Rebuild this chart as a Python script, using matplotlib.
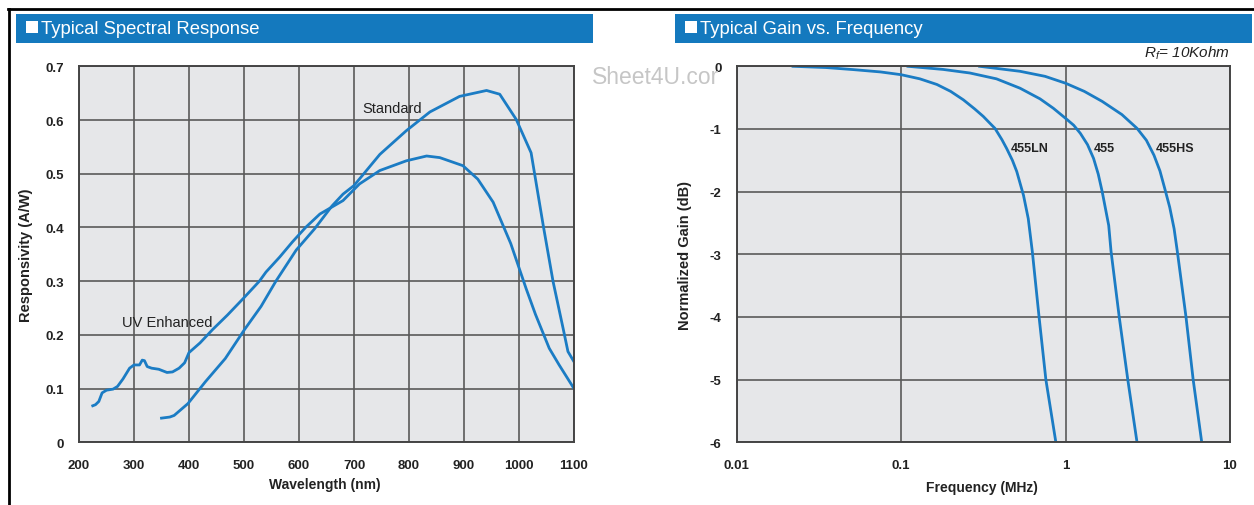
import matplotlib
matplotlib.use("Agg")
import matplotlib.pyplot as plt
from matplotlib.patches import Rectangle

# spectral response (wavelength nm, responsivity A/W)
uv_wl = [225, 230, 236, 242, 250, 262, 270, 280, 292, 300, 310, 315, 319, 324,
         332, 345, 360, 370, 382, 392, 400, 420, 443, 470, 498, 528, 540, 565,
         588, 612, 638, 680, 710, 747, 795, 832, 856, 898, 925, 953, 985, 1013,
         1030, 1055, 1073, 1100]
uv_resp = [0.068, 0.070, 0.076, 0.092, 0.097, 0.099, 0.104, 0.118, 0.138, 0.144,
           0.144, 0.153, 0.152, 0.141, 0.138, 0.136, 0.130, 0.131, 0.138, 0.148,
           0.167, 0.185, 0.210, 0.237, 0.267, 0.300, 0.317, 0.345, 0.373, 0.400,
           0.425, 0.450, 0.481, 0.506, 0.524, 0.533, 0.530, 0.515, 0.490, 0.447,
           0.370, 0.286, 0.238, 0.175, 0.144, 0.100]

std_wl = [350, 365, 373, 398, 430, 466, 501, 531, 558, 595, 628, 660, 680, 700,
          747, 795, 838, 892, 941, 965, 995, 1022, 1044, 1062, 1080, 1089, 1100]
std_resp = [0.045, 0.047, 0.050, 0.072, 0.113, 0.156, 0.210, 0.253, 0.300, 0.358,
            0.397, 0.440, 0.462, 0.478, 0.536, 0.580, 0.615, 0.644, 0.655, 0.648,
            0.601, 0.539, 0.404, 0.299, 0.213, 0.169, 0.150]

# gain vs frequency (MHz, dB)
ln_f = [0.022, 0.035, 0.0513, 0.075, 0.1, 0.13, 0.165, 0.2, 0.239, 0.28, 0.316,
        0.35, 0.372, 0.41, 0.438, 0.475, 0.505, 0.555, 0.593, 0.628, 0.69, 0.759,
        0.873]
ln_g = [0, -0.02, -0.053, -0.09, -0.134, -0.2, -0.29, -0.4, -0.535, -0.68, -0.80,
        -0.92, -0.99, -1.17, -1.31, -1.5, -1.68, -2.06, -2.43, -2.96, -4.0, -5.0,
        -6.0]
std_f = [0.11, 0.18, 0.262, 0.38, 0.529, 0.7, 0.843, 1.0, 1.12, 1.23, 1.36, 1.48,
         1.58, 1.67, 1.83, 1.89, 2.12, 2.39, 2.72]
std_g = [0, -0.05, -0.107, -0.2, -0.35, -0.52, -0.67, -0.83, -0.94, -1.07, -1.25,
         -1.47, -1.72, -2.0, -2.54, -2.95, -4.0, -5.0, -6.0]
hs_f = [0.3, 0.529, 0.75, 1.0, 1.3, 1.67, 2.2, 2.72, 3.1, 3.45, 3.75, 4.01, 4.3,
        4.57, 4.78, 5.4, 5.97, 6.73]
hs_g = [0, -0.08, -0.16, -0.27, -0.4, -0.56, -0.77, -0.99, -1.18, -1.42, -1.67,
        -1.95, -2.25, -2.59, -2.95, -4.0, -5.0, -6.0]

wl_ticks = [200, 300, 400, 500, 600, 700, 800, 900, 1000, 1100]
wl_labels = ["200", "300", "400", "500", "600", "700", "800", "900", "1000", "1100"]
resp_ticks = [0, 0.1, 0.2, 0.3, 0.4, 0.5, 0.6, 0.7]
resp_labels = ["0", "0.1", "0.2", "0.3", "0.4", "0.5", "0.6", "0.7"]
f_ticks = [0.01, 0.1, 1, 10]
f_labels = ["0.01", "0.1", "1", "10"]
g_ticks = [0, -1, -2, -3, -4, -5, -6]
g_labels = ["0", "-1", "-2", "-3", "-4", "-5", "-6"]

NARROW = ["Liberation Sans Narrow", "Liberation Sans", "DejaVu Sans"]
plt.rcParams["font.family"] = NARROW
plt.rcParams["mathtext.fontset"] = "custom"
plt.rcParams["mathtext.it"] = "Liberation Sans:italic"
plt.rcParams["mathtext.rm"] = "Liberation Sans:italic"

BAR = "#1479be"
LINE = "#1b7cc4"
FACE = "#e6e7e9"
GRID = "#5a5a5a"
INK = "#222222"

W, H = 1254, 506
fig = plt.figure(figsize=(W / 100, H / 100), dpi=100)


def fx(px):
    return px / W


def fy(py):
    return 1 - py / H


# page frame lines
fig.add_artist(plt.Line2D([fx(8), 1], [fy(9.5), fy(9.5)], color="black", lw=2))
fig.add_artist(plt.Line2D([fx(8.5), fx(8.5)], [fy(9.5), 0], color="black", lw=2))

# header bars
for x0, x1, title in [(16, 593, "Typical Spectral Response"),
                      (675, 1252, "Typical Gain vs. Frequency")]:
    fig.add_artist(Rectangle((fx(x0), fy(43.5)), fx(x1 - x0), 29 / H,
                             facecolor=BAR, edgecolor="none"))
    fig.add_artist(Rectangle((fx(x0 + 10), fy(33.5)), fx(12), 12 / H,
                             facecolor="white", edgecolor="none"))
    fig.text(fx(x0 + 25), fy(29), title, color="white", fontsize=13.3,
             va="center", ha="left")

fig.text(fx(592), fy(77), "Sheet4U.cor", color="#c6c6c6", fontsize=16.5,
         va="center", ha="left")

# left: spectral response
ax1 = fig.add_axes([fx(79), fy(443.3), fx(574 - 79), (443.3 - 67.3) / H])
ax1.plot(uv_wl, uv_resp, color=LINE, lw=2, solid_joinstyle="round")
ax1.plot(std_wl, std_resp, color=LINE, lw=2, solid_joinstyle="round")
ax1.set_xlim(200, 1100)
ax1.set_ylim(0, 0.7)
ax1.set_xticks(wl_ticks, wl_labels)
ax1.set_yticks(resp_ticks, resp_labels)
ax1.text(770, 0.622, "Standard", ha="center", va="center", fontsize=10.5, color=INK)
ax1.text(360, 0.224, "UV Enhanced", ha="center", va="center", fontsize=10.5, color=INK)
ax1.set_xlabel("Wavelength (nm)", fontsize=10, fontweight="bold", color=INK)
ax1.set_ylabel("Responsivity (A/W)", fontsize=10.5, fontweight="bold", color=INK)
ax1.xaxis.set_label_coords(0.497, -0.093)
ax1.yaxis.set_label_coords(-0.093, 0.5)

# right: gain vs frequency
ax2 = fig.add_axes([fx(736.7), fy(443.3), fx(1230 - 736.7), (443.3 - 67.3) / H])
ax2.set_xscale("log")
ax2.plot(ln_f, ln_g, color=LINE, lw=2, solid_joinstyle="round")
ax2.plot(std_f, std_g, color=LINE, lw=2, solid_joinstyle="round")
ax2.plot(hs_f, hs_g, color=LINE, lw=2, solid_joinstyle="round")
ax2.set_xlim(0.01, 10)
ax2.set_ylim(-6, 0)
ax2.set_xticks(f_ticks, f_labels)
ax2.minorticks_off()
ax2.set_yticks(g_ticks, g_labels)
for f, name in [(0.605, "455LN"), (1.71, "455"), (4.64, "455HS")]:
    ax2.text(f, -1.31, name, ha="center", va="center", fontsize=9,
             fontweight="bold", color=INK)
ax2.set_xlabel("Frequency (MHz)", fontsize=10, fontweight="bold", color=INK)
ax2.set_ylabel("Normalized Gain (dB)", fontsize=10.5, fontweight="bold", color=INK)
ax2.xaxis.set_label_coords(0.497, -0.1)
ax2.yaxis.set_label_coords(-0.091, 0.5)
fig.text(fx(1230), fy(53), r"$R_f$= 10Kohm", ha="right", va="center",
         fontsize=11, style="italic", color=INK)

for ax in (ax1, ax2):
    ax.set_facecolor(FACE)
    ax.grid(True, color=GRID, lw=1.2)
    ax.set_axisbelow(True)
    for s in ax.spines.values():
        s.set_color("#444444")
        s.set_linewidth(1.4)
    ax.tick_params(length=0, labelsize=9.5, labelcolor=INK)
    ax.tick_params(axis="x", pad=12)
    ax.tick_params(axis="y", pad=11)
    for lab in ax.get_xticklabels() + ax.get_yticklabels():
        lab.set_fontweight("bold")

fig.savefig("out.png", dpi=100, facecolor="white")
